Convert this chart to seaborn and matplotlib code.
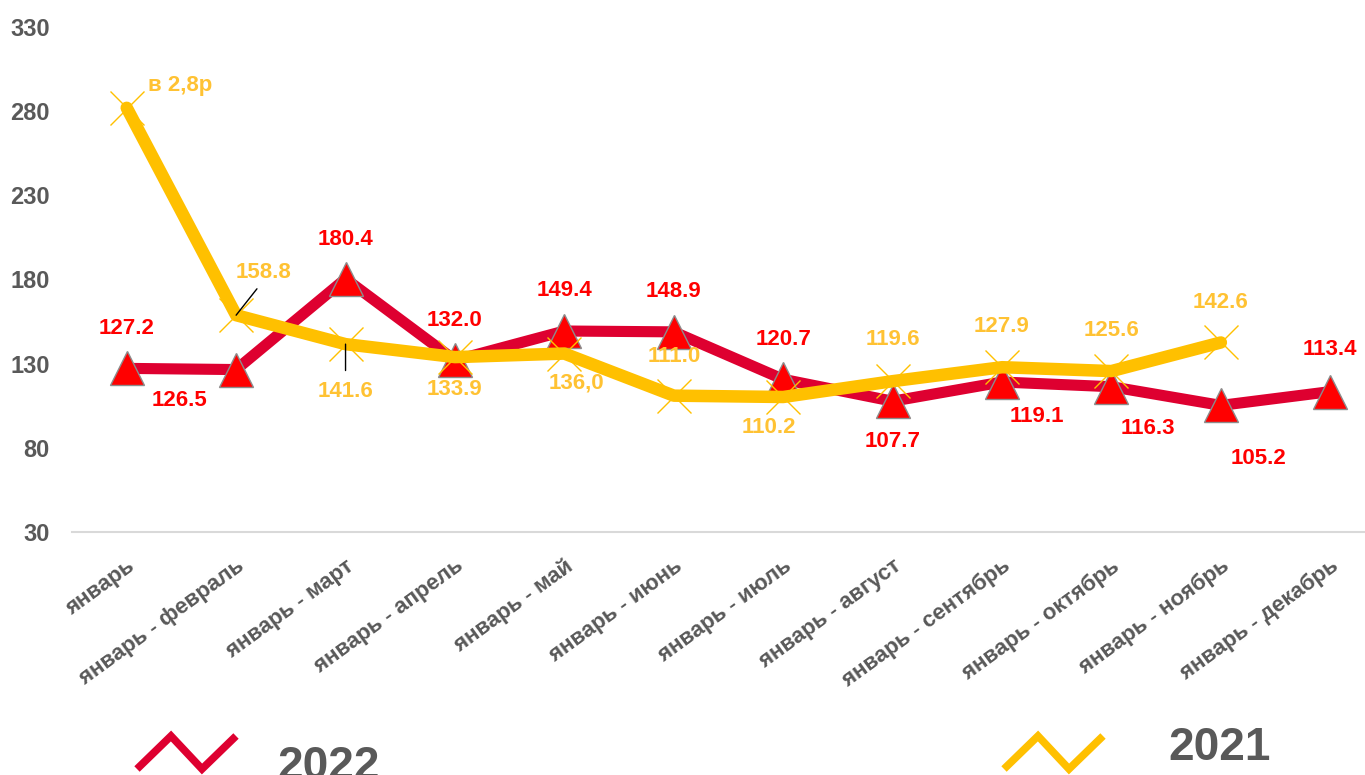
import matplotlib
matplotlib.use('Agg')
import numpy as np
import pandas as pd
import matplotlib.pyplot as plt
import seaborn as sns
from matplotlib import font_manager
from matplotlib.lines import Line2D

# --- data -------------------------------------------------------------
periods = ['январь', 'январь - февраль', 'январь - март', 'январь - апрель',
           'январь - май', 'январь - июнь', 'январь - июль', 'январь - август',
           'январь - сентябрь', 'январь - октябрь', 'январь - ноябрь',
           'январь - декабрь']
values_2022 = [127.2, 126.5, 180.4, 132.0, 149.4, 148.9, 120.7, 107.7,
               119.1, 116.3, 105.2, 113.4]
values_2021 = [282.0, 158.8, 141.6, 133.9, 136.0, 111.0, 110.2, 119.6,
               127.9, 125.6, 142.6]
labels_2022 = ['127.2', '126.5', '180.4', '132.0', '149.4', '148.9', '120.7',
               '107.7', '119.1', '116.3', '105.2', '113.4']
labels_2021 = ['в 2,8р', '158.8', '141.6', '133.9', '136,0', '111.0', '110.2',
               '119.6', '127.9', '125.6', '142.6']
y_ticks = [30, 80, 130, 180, 230, 280, 330]
series_names = ['2022', '2021']


def main():
    sns.set_style('white')
    installed = {f.name for f in font_manager.fontManager.ttflist}
    narrow = 'Liberation Sans Narrow' in installed
    plt.rcParams['font.family'] = ['Liberation Sans', 'DejaVu Sans']

    red_line = '#DE0030'
    red_text = '#FF0000'
    yellow = '#FFC000'
    yellow_text = '#FFC233'
    grey = '#595959'

    df22 = pd.DataFrame({'pos': np.arange(len(values_2022)), 'value': values_2022})
    df21 = pd.DataFrame({'pos': np.arange(len(values_2021)), 'value': values_2021})

    fig = plt.figure(figsize=(13.65, 7.75), dpi=100)
    ax = fig.add_axes([72 / 1365, 1 - 532 / 775, 1313 / 1365, 505 / 775])

    sns.lineplot(data=df22, x='pos', y='value', ax=ax, sort=False,
                 color=red_line, linewidth=8, marker='^', markersize=25,
                 markerfacecolor=red_text, markeredgecolor='#8C8C8C',
                 markeredgewidth=1.0)
    sns.lineplot(data=df21, x='pos', y='value', ax=ax, sort=False,
                 color=yellow, linewidth=9, marker='x', markersize=25,
                 markeredgecolor=yellow, markeredgewidth=1.0)

    # data labels (offsets in points, hand placed like the source)
    off_22 = [(0, 29), (-41, -22), (0, 28), (0, 29), (0, 29), (0, 29), (0, 29),
              (0, -29), (25, -25), (26, -30), (27, -38), (0, 30)]
    off_21 = [(15, 16), (20, 31), (0, -34), (0, -23), (9, -21), (0, 28),
              (-10, -22), (0, 30), (0, 29), (0, 29), (0, 29)]
    for i, (v, lab) in enumerate(zip(values_2022, labels_2022)):
        ax.annotate(lab, xy=(i, v), xytext=off_22[i], textcoords='offset points',
                    ha='center', va='center', color=red_text, fontsize=16,
                    fontweight='bold')
    for i, (v, lab) in enumerate(zip(values_2021, labels_2021)):
        ax.annotate(lab, xy=(i, v), xytext=off_21[i], textcoords='offset points',
                    ha='left' if i == 0 else 'center', va='center',
                    color=yellow_text, fontsize=16, fontweight='bold')

    # small leader lines
    ax.annotate('', xy=(1, values_2021[1]), xytext=(15, 19), textcoords='offset points',
                arrowprops=dict(arrowstyle='-', color='black', lw=1, shrinkA=0, shrinkB=0))
    ax.annotate('', xy=(2, values_2021[2]), xytext=(0, -19), textcoords='offset points',
                arrowprops=dict(arrowstyle='-', color='black', lw=1, shrinkA=0, shrinkB=0))

    # axes styling
    ax.set_xlim(-0.5, len(periods) - 0.5)
    ax.set_ylim(y_ticks[0], y_ticks[-1])
    ax.set_yticks(y_ticks)
    ax.set_yticklabels([str(t) for t in y_ticks], fontsize=17, fontweight='bold', color=grey)
    ax.set_xticks(np.arange(len(periods)))
    ax.set_xticklabels(periods, rotation=36, ha='right', rotation_mode='anchor',
                       fontsize=16, fontweight='bold', color=grey)
    ax.set_xticks(np.arange(len(periods) + 1) - 0.5, minor=True)
    ax.tick_params(axis='x', which='major', length=0, pad=17)
    ax.tick_params(axis='x', which='minor', length=6, width=1.5, color='#D9D9D9')
    ax.tick_params(axis='y', length=0, pad=16)
    ax.set_xlabel('')
    ax.set_ylabel('')
    for side in ['left', 'top', 'right']:
        ax.spines[side].set_visible(False)
    ax.spines['bottom'].set_color('#D9D9D9')
    ax.spines['bottom'].set_linewidth(1.5)
    ax.grid(False)

    # legend drawn below the plot
    def px(x, y):
        return x / 1365, 1 - y / 775

    if narrow:
        legend_font = dict(family=['Liberation Sans Narrow', 'DejaVu Sans'], fontsize=38)
    else:
        legend_font = dict(family=['Liberation Sans', 'DejaVu Sans'], fontsize=33)

    zig_x = [0, 34, 65, 99]
    zig_y = [769, 736, 769, 736]
    for x0, col, name, tx, ty in [(137, red_line, series_names[0], 277, 779),
                                  (1004, yellow, series_names[1], 1168, 760)]:
        pts = [px(x0 + dx, dy) for dx, dy in zip(zig_x, zig_y)]
        fig.add_artist(Line2D([p[0] for p in pts], [p[1] for p in pts],
                              transform=fig.transFigure, color=col, lw=5.5,
                              solid_joinstyle='miter', solid_capstyle='butt'))
        fig.text(*px(tx, ty), name, fontweight='bold', color=grey,
                 ha='left', va='baseline', **legend_font)

    fig.savefig('out.png', dpi=100)


if __name__ == '__main__':
    main()
